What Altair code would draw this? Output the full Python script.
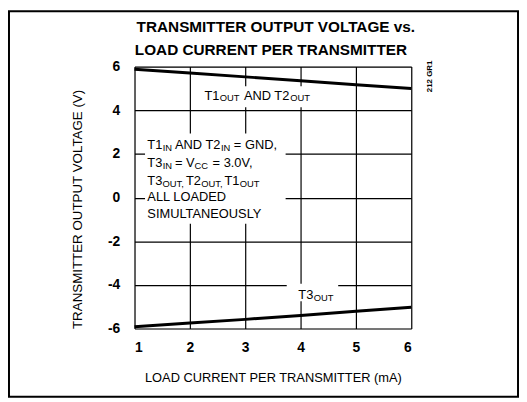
import altair as alt
import pandas as pd

# ---- data ----
load_ma = [1, 2, 3, 4, 5, 6]
t12_out = [5.88, 5.71, 5.53, 5.35, 5.17, 5.0]
t3_out = [-5.92, -5.75, -5.58, -5.40, -5.21, -5.02]

x_ticks = [1, 1.5, 2, 2.5, 3, 3.5, 4, 4.5, 5, 5.5, 6]
y_ticks = [-6, -5, -4, -3, -2, -1, 0, 1, 2, 3, 4, 5, 6]

title_lines = ["TRANSMITTER OUTPUT VOLTAGE vs.", "LOAD CURRENT PER TRANSMITTER"]

# annotation text (main size) with positions in data units
main_labels = ["T1", "AND T2", "= GND,", "T3", "= V", "= 3.0V,", "T3", "T2", "T1",
               "ALL LOADED", "SIMULTANEOUSLY", "T1", "AND T2", "T3"]
main_x = [1.232, 1.732, 2.795, 1.232, 1.732, 2.411, 1.232, 1.929, 2.625,
          1.232, 1.232, 2.2625, 2.977, 3.959]
main_y = [2.209, 2.209, 2.209, 1.412, 1.412, 1.412, 0.588, 0.588, 0.588,
          -0.173, -0.929, 4.492, 4.492, -4.643]

# subscript pieces
sub_labels = ["IN", "IN", "IN", "CC", "OUT,", "OUT,", "OUT", "OUT", "OUT", "OUT"]
sub_x = [1.509, 2.5625, 1.509, 2.085, 1.505, 2.205, 2.902, 2.539, 3.8125, 4.236]
sub_y = [2.12, 2.12, 1.32, 1.32, 0.50, 0.50, 0.50, 4.415, 4.415, -4.72]

# white label backgrounds
bg_x = [2.08, 1.19, 3.75]
bg_x2 = [4.25, 3.73, 4.68]
bg_y = [5.1, 2.93, -3.95]
bg_y2 = [4.14, -1.2, -4.75]

FONT = "Liberation Sans, Arial, Helvetica, sans-serif"

lines_df = pd.DataFrame({
    "x": load_ma * 2,
    "y": t12_out + t3_out,
    "series": ["T1OUT AND T2OUT"] * 6 + ["T3OUT"] * 6,
})
main_df = pd.DataFrame({"t": main_labels, "x": main_x, "y": main_y})
sub_df = pd.DataFrame({"t": sub_labels, "x": sub_x, "y": sub_y})
bg_df = pd.DataFrame({"x": bg_x, "x2": bg_x2, "y": bg_y, "y2": bg_y2})
code_df = pd.DataFrame({"t": ["212 GR1"], "x": [6.34], "y": [5.55]})

xscale = alt.Scale(domain=[1, 6], nice=False, zero=False)
yscale = alt.Scale(domain=[-6, 6], nice=False, zero=False)

xaxis = alt.Axis(
    values=x_ticks,
    labelExpr="datum.value % 1 === 0 ? datum.label : ''",
    title="LOAD CURRENT PER TRANSMITTER (mA)",
    grid=True, gridColor="black", gridWidth=1.2, gridOpacity=1,
    domain=False, ticks=False,
    labelFont=FONT, labelFontSize=14, labelFontWeight="bold", labelColor="black",
    labelPadding=12,
    titleFont=FONT, titleFontSize=13, titleFontWeight="normal", titleColor="black",
    titleBaseline="alphabetic", titleY=54,
)
yaxis = alt.Axis(
    values=y_ticks,
    labelExpr="datum.value % 2 === 0 ? (datum.value < 0 ? '-' + abs(datum.value) : '' + datum.value) : ''",
    title="TRANSMITTER OUTPUT VOLTAGE (V)",
    grid=True, gridColor="black", gridWidth=1.2, gridOpacity=1,
    domain=False, ticks=False,
    labelFont=FONT, labelFontSize=14, labelFontWeight="bold", labelColor="black",
    labelPadding=15,
    titleFont=FONT, titleFontSize=13.5, titleFontWeight="normal", titleColor="black",
    titleAngle=270, titleBaseline="alphabetic", titleX=-54, titleY=144,
    titleAlign="center",
)

base_axes = alt.Chart(lines_df).mark_line(strokeWidth=3, color="black").encode(
    x=alt.X("x:Q", scale=xscale, axis=xaxis),
    y=alt.Y("y:Q", scale=yscale, axis=yaxis),
    detail="series:N",
)

bg = alt.Chart(bg_df).mark_rect(fill="white").encode(
    x=alt.X("x:Q", scale=xscale), x2="x2:Q",
    y=alt.Y("y:Q", scale=yscale), y2="y2:Q",
)

main_text = alt.Chart(main_df).mark_text(
    align="left", baseline="alphabetic", font=FONT, fontSize=13, color="black"
).encode(x=alt.X("x:Q", scale=xscale), y=alt.Y("y:Q", scale=yscale), text="t:N")

sub_text = alt.Chart(sub_df).mark_text(
    align="left", baseline="alphabetic", font=FONT, fontSize=9.5, color="black"
).encode(x=alt.X("x:Q", scale=xscale), y=alt.Y("y:Q", scale=yscale), text="t:N")

code_text = alt.Chart(code_df).mark_text(
    align="center", baseline="middle", font=FONT, fontSize=8, fontWeight="bold",
    angle=270, color="black"
).encode(x=alt.X("x:Q", scale=xscale), y=alt.Y("y:Q", scale=yscale), text="t:N")

title1 = alt.Chart(code_df).mark_text(
    align="center", baseline="alphabetic", font=FONT, fontSize=15.5,
    fontWeight="bold", color="black", text=title_lines[0]
).encode(x=alt.value(143), y=alt.value(-35))

title2 = alt.Chart(code_df).mark_text(
    align="center", baseline="alphabetic", font=FONT, fontSize=15.5,
    fontWeight="bold", color="black", text=title_lines[1]
).encode(x=alt.value(138), y=alt.value(-12))

frame = alt.Chart(code_df).mark_rect(
    fill=None, stroke="black", strokeWidth=2
).encode(
    x=alt.value(-127), x2=alt.value(388), y=alt.value(-56), y2=alt.value(334)
)

chart = alt.layer(bg, base_axes, main_text, sub_text, code_text, title1, title2, frame).properties(
    width=280, height=265,
    padding={"left": 128, "top": 57, "right": 109, "bottom": 70},
    autosize=alt.AutoSizeParams(type="none"),
).configure_view(
    stroke="black", strokeWidth=2.5
).configure(background="white")

chart.save("out.html", embed_options={"renderer": "svg", "actions": False})
